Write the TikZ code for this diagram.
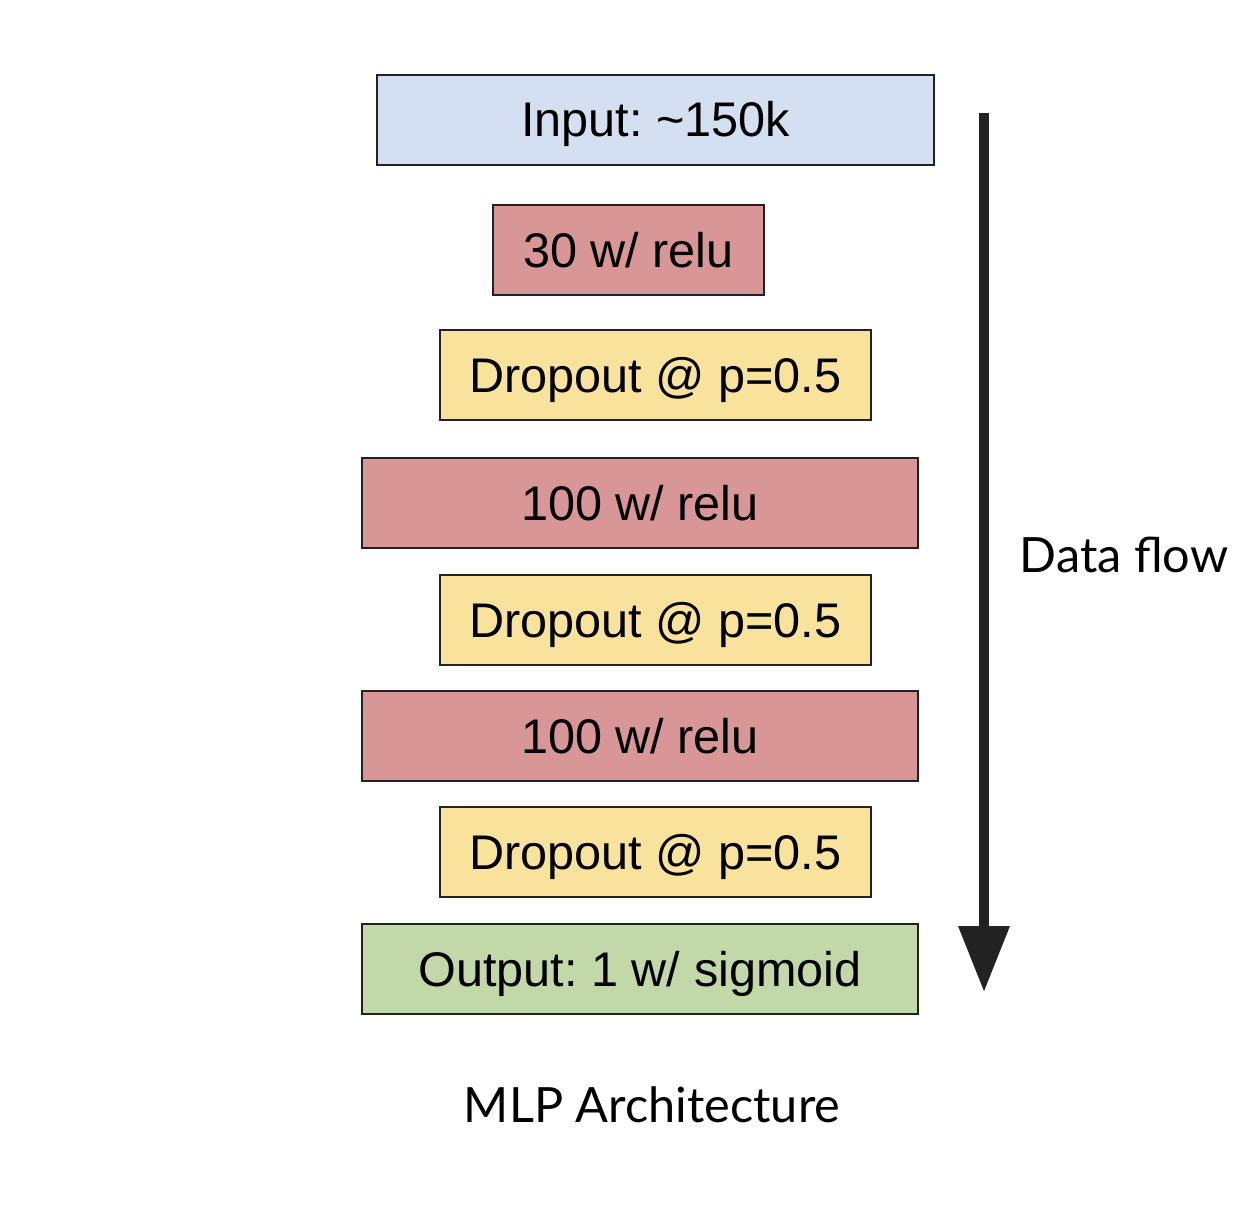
\documentclass[tikz,border=0pt]{standalone}
\usepackage{fontspec}
\setmainfont{Liberation Sans}
\newfontfamily\latofont{Lato}
\usetikzlibrary{arrows.meta}
\definecolor{inblue}{HTML}{D4E0F1}
\definecolor{relured}{HTML}{D99696}
\definecolor{dropyel}{HTML}{F9E39C}
\definecolor{outgreen}{HTML}{C2D8A9}
\definecolor{edgegray}{HTML}{222222}
\frenchspacing
\tikzset{
  layer/.style={draw=edgegray,line width=1pt,inner sep=0pt,minimum height=45pt,
    text height=17.4pt,text depth=0pt,font=\fontsize{24.3}{29}\selectfont},
  note/.style={font=\latofont\fontsize{24.3}{29}\selectfont}
}
\begin{document}
\begin{tikzpicture}[x=.5pt,y=-.5pt]
\useasboundingbox (0,0) rectangle (1258,1215);
\node[layer,fill=inblue,minimum width=278.5pt] (inp) at (655.5,119.5) {Input: \textasciitilde150k};
\node[layer,fill=relured,minimum width=135.5pt] (r1) at (628.5,250) {30 w/ relu};
\node[layer,fill=dropyel,minimum width=215.5pt] (d1) at (655.5,375) {Dropout @ p=0.5};
\node[layer,fill=relured,minimum width=278pt] (r2) at (640,503) {100 w/ relu};
\node[layer,fill=dropyel,minimum width=215.5pt] (d2) at (655.5,620) {Dropout @ p=0.5};
\node[layer,fill=relured,minimum width=278pt] (r3) at (640,736) {100 w/ relu};
\node[layer,fill=dropyel,minimum width=215.5pt] (d3) at (655.5,852) {Dropout @ p=0.5};
\node[layer,fill=outgreen,minimum width=278pt] (out) at (640,969) {Output: 1 w/ sigmoid};
% data flow arrow
\coordinate (ftop) at (984,113);
\coordinate (fbot) at (984,992);
\draw[edgegray,line width=5pt,-{Triangle[length=33pt,width=24.5pt]}] (ftop) -- (fbot);
\node[note] (flow) at (1124,555) {Data flow};
\node[note] (title) at (652,1105) {MLP Architecture};
\end{tikzpicture}
\end{document}
